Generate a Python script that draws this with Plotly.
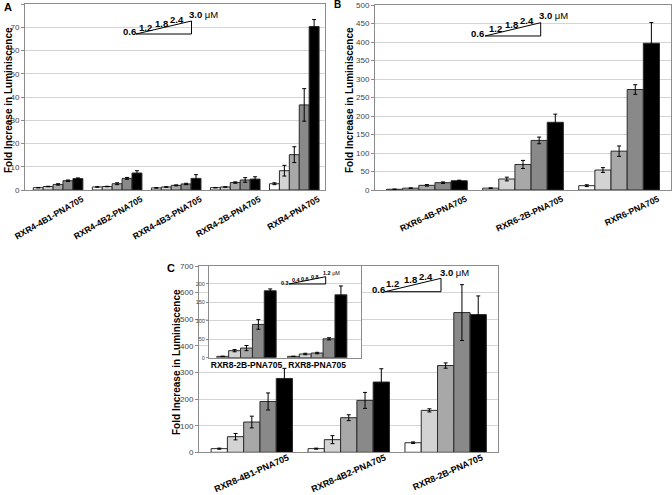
import plotly.graph_objects as go

W, H = 672, 495

# ---------------- data ----------------
conc_labels = ["0.6", "1.2", "1.8", "2.4", "3.0"]
inset_conc_labels = ["0.3", "0.4", "0.6", "0.8", "1.2"]

a_categories = ["RXR4-4B1-PNA705", "RXR4-4B2-PNA705", "RXR4-4B3-PNA705",
                "RXR4-2B-PNA705", "RXR4-PNA705"]
a_values = [
    [1.0, 1.3, 0.9, 1.0, 2.7],
    [1.5, 1.5, 1.3, 1.3, 8.3],
    [2.4, 2.7, 2.0, 3.2, 15.2],
    [4.0, 5.0, 2.6, 4.3, 36.6],
    [4.9, 7.3, 5.0, 4.7, 70.3],
]
a_errors = [
    [0.1, 0.1, 0.1, 0.1, 0.4],
    [0.1, 0.1, 0.1, 0.1, 2.3],
    [0.3, 0.4, 0.2, 0.3, 3.4],
    [0.3, 0.4, 0.3, 1.0, 7.0],
    [0.3, 1.0, 1.6, 1.0, 3.0],
]

b_categories = ["RXR6-4B-PNA705", "RXR6-2B-PNA705", "RXR6-PNA705"]
b_values = [
    [2, 5, 11.7],
    [5, 29.7, 54],
    [12.6, 69, 105],
    [19.8, 134, 271.6],
    [25, 183, 396.6],
]
b_errors = [
    [0.5, 0.8, 2.5],
    [0.8, 5, 6.5],
    [2, 11, 14],
    [2, 9, 13],
    [1.5, 22, 56],
]

c_categories = ["RXR8-4B1-PNA705", "RXR8-4B2-PNA705", "RXR8-2B-PNA705"]
c_values = [
    [13.7, 13.7, 36],
    [58.7, 47.5, 157.5],
    [113.7, 130, 326],
    [191, 195, 525],
    [277.5, 264, 517.5],
]
c_errors = [
    [2, 2, 3],
    [12, 15, 6],
    [22, 11, 10],
    [32, 30, 105],
    [38, 50, 70],
]

inset_categories = ["RXR8-2B-PNA705", "RXR8-PNA705"]
inset_values = [
    [3.6, 3.6],
    [19, 10],
    [26, 12.6],
    [90, 51],
    [181, 170],
]
inset_errors = [
    [0.5, 0.5],
    [3, 2],
    [7, 2],
    [13, 3],
    [5, 24],
]

# ---------------- style ----------------
bar_colors = ["#ffffff", "#d3d3d3", "#a8a8a8", "#898989", "#000000"]
FONT = "Liberation Sans, Arial, Helvetica, sans-serif"
AXIS_GRAY = "#8c8c8c"
GRID = "#d4d4d4"


def fx(x):
    return x / W


def fy(y):
    return 1 - y / H


fig = go.Figure()

panels = [
    ("x", "y", a_categories, a_values, a_errors),
    ("x2", "y2", b_categories, b_values, b_errors),
    ("x3", "y3", c_categories, c_values, c_errors),
    ("x4", "y4", inset_categories, inset_values, inset_errors),
]
for xa, ya, cats, vals, errs in panels:
    labels = inset_conc_labels if xa == "x4" else conc_labels
    for i in range(5):
        fig.add_trace(go.Bar(
            x=cats, y=vals[i], name=labels[i], xaxis=xa, yaxis=ya,
            marker=dict(color=bar_colors[i], line=dict(color="#2b2b2b", width=1)),
            error_y=dict(type="data", array=errs[i], visible=True,
                         color="#000000", thickness=1, width=2),
            showlegend=False,
        ))


def yaxis_cfg(domain_px, rng, dtick, size=8, anchor=None, ticklen=3):
    return dict(
        domain=[fy(domain_px[1]), fy(domain_px[0])], range=rng, dtick=dtick,
        showgrid=True, gridcolor=GRID, gridwidth=1, zeroline=False,
        showline=True, linecolor=AXIS_GRAY, linewidth=1, mirror=True,
        ticks="outside", ticklen=ticklen, tickcolor=AXIS_GRAY,
        tickfont=dict(family=FONT, size=size, color="#444444"),
        anchor=anchor, fixedrange=True, automargin=False,
    )


def xaxis_cfg(domain_px, rng, angle, shift, size=8.5, anchor=None, standoff=0):
    return dict(
        domain=[fx(domain_px[0]), fx(domain_px[1])], range=rng,
        showgrid=False, zeroline=False, showline=True, linecolor=AXIS_GRAY,
        linewidth=1, mirror=True, ticks="", tickangle=angle,
        ticklabelshift=shift, ticklabelstandoff=standoff,
        tickfont=dict(family=FONT, size=size, color="#000000", weight="bold"),
        anchor=anchor, fixedrange=True, automargin=False,
    )


fig.update_layout(
    width=W, height=H,
    margin=dict(l=0, r=0, t=0, b=0, autoexpand=False),
    paper_bgcolor="white", plot_bgcolor="white",
    barmode="group", bargap=0.16, bargroupgap=0,
    font=dict(family=FONT),
    xaxis=xaxis_cfg((25, 325), [-0.56, 4.52], -30, 24, size=8.7, anchor="y"),
    yaxis=yaxis_cfg((4, 190), [0, 80], 10, anchor="x"),
    xaxis2=xaxis_cfg((375, 671), [-0.54, 2.54], -25, 39, size=8.7, anchor="y2"),
    yaxis2=yaxis_cfg((5, 190), [0, 500], 50, anchor="x2"),
    xaxis3=xaxis_cfg((199, 498), [-0.545, 2.54], -24, 36, size=9, anchor="y3", standoff=-4),
    yaxis3=yaxis_cfg((266, 452.3), [0, 700], 100, anchor="x3"),
    xaxis4=xaxis_cfg((209, 361), [-0.53, 1.62], 0, 0, size=8.5, anchor="y4", standoff=-1),
    yaxis4=yaxis_cfg((266, 357.7), [0, 248], 50, size=5.5, anchor="x4", ticklen=2),
)

annotations = []
shapes = []


def ann(text, x, y, size, bold=True, angle=0, xanchor="center"):
    annotations.append(dict(
        text=("<b>%s</b>" % text) if bold else text,
        x=fx(x), y=fy(y), xref="paper", yref="paper",
        xanchor=xanchor, yanchor="middle", showarrow=False, textangle=angle,
        font=dict(family=FONT, size=size, color="#000000"),
    ))


# panel letters
ann("A", 8, 7, 11)
ann("B", 337, 5, 10)
ann("C", 171, 268, 11)

# y-axis titles
title = "Fold Increase in Luminiscence"
ann(title, 9, 100, 10, angle=-90)
ann(title, 350, 100, 10, angle=-90)
ann(title, 176, 362, 10, angle=-90)


def conc_scale(base_l, base_r, base_y, top_y, label_pos, labels, size):
    shapes.append(dict(
        type="path", xref="paper", yref="paper",
        path="M %f %f L %f %f L %f %f Z" % (fx(base_l), fy(base_y), fx(base_r), fy(base_y),
                                             fx(base_r), fy(top_y)),
        line=dict(color="#000000", width=1), fillcolor="rgba(0,0,0,0)",
    ))
    for k, lab in enumerate(labels):
        x, y = label_pos[k]
        if k == len(labels) - 1:
            annotations.append(dict(
                text="<b>%s</b> μM" % lab, x=fx(x), y=fy(y), xref="paper", yref="paper",
                xanchor="left", yanchor="middle", showarrow=False,
                font=dict(family=FONT, size=size, color="#000000"),
            ))
        else:
            ann(lab, x, y, size)


conc_scale(136, 191.5, 34, 21, [(129, 32), (145.5, 27.5), (161, 23.5), (177, 19.5), (187, 15)],
           conc_labels, 9.5)
conc_scale(485, 540.7, 36, 22.7, [(477.7, 33.3), (495, 28.3), (511.7, 24.3), (526.7, 20.7), (537, 16)],
           conc_labels, 9.5)
conc_scale(385, 441, 291.7, 278.3, [(378.3, 289.3), (392.3, 283.3), (410, 279), (425.7, 276), (438, 272.3)],
           conc_labels, 9.5)
conc_scale(289, 325.7, 284, 276.7, [(285, 282.7), (296, 280), (305, 278.7), (315, 277.3), (321, 273.3)],
           inset_conc_labels, 5.5)

fig.update_layout(annotations=annotations, shapes=shapes)

fig.write_html(
    "out.html",
    config={"displayModeBar": False},
    post_script="document.body.style.margin='0';document.body.style.padding='0';"
                "document.body.style.overflow='hidden';",
)
